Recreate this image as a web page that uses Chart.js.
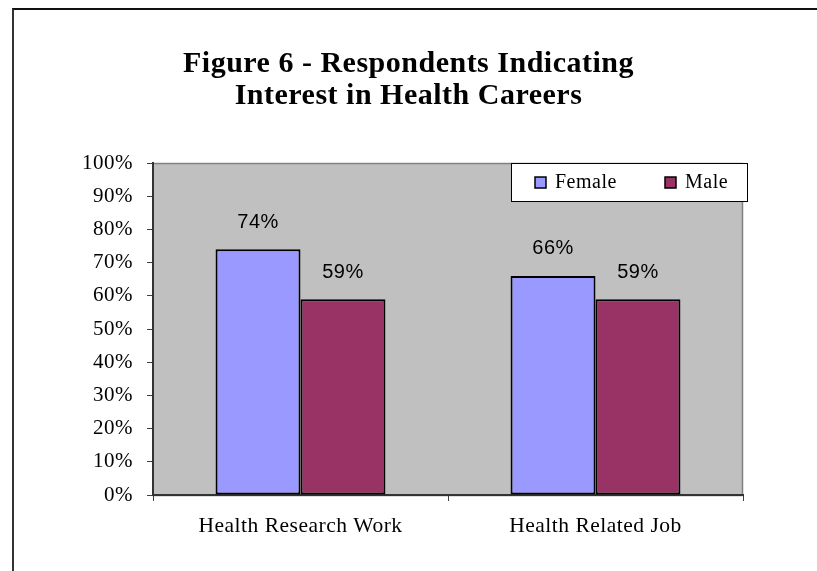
<!DOCTYPE html>
<html>
<head>
<meta charset="utf-8">
<script src="https://cdn.jsdelivr.net/npm/chart.js@4.4.0/dist/chart.umd.min.js"></script>
<style>
body { margin: 0; background: #fff; }
#frame { position: absolute; left: 12px; top: 8px; width: 805px; height: 563px; border-left: 2px solid #333; border-top: 2px solid #111; box-sizing: border-box; }
#wrap { position: absolute; left: 0; top: 0; width: 817px; height: 571px; }
</style>
</head>
<body>
<div id="frame"></div>
<div id="wrap"><canvas id="myChart" width="817" height="571"></canvas></div>
<script>
const categories = ['Health Research Work', 'Health Related Job'];
const seriesNames = ['Female', 'Male'];
const femaleValues = [74, 66];
const maleValues = [59, 59];
const seriesColors = ['#9999FF', '#993366'];
const titleLines = ['Figure 6 - Respondents Indicating', 'Interest in Health Careers'];

const serif = '"Liberation Serif", "Times New Roman", serif';
const sans = '"Liberation Sans", Arial, sans-serif';

// Excel-ish wide text
const spacing = {
    id: 'spacing',
    beforeLayout(chart) { chart.ctx.letterSpacing = '0.5px'; },
    beforeDraw(chart) { chart.ctx.letterSpacing = '0.5px'; }
};

const plotBackground = {
    id: 'plotBackground',
    beforeDraw(chart) {
        const {ctx, chartArea: a} = chart;
        ctx.save();
        ctx.fillStyle = '#C0C0C0';
        ctx.fillRect(a.left, a.top, a.width, a.height);
        ctx.strokeStyle = '#808080';
        ctx.lineWidth = 1.5;
        ctx.strokeRect(a.left, a.top + 0.5, a.width - 0.5, a.height);
        ctx.restore();
    }
};

const valueLabels = {
    id: 'valueLabels',
    afterDatasetsDraw(chart) {
        const ctx = chart.ctx;
        ctx.save();
        ctx.font = '20px ' + sans;
        ctx.fillStyle = '#000';
        ctx.textAlign = 'center';
        ctx.textBaseline = 'middle';
        chart.data.datasets.forEach((ds, i) => {
            chart.getDatasetMeta(i).data.forEach((bar, j) => {
                ctx.fillText(ds.data[j] + '%', bar.x, bar.y - 27);
            });
        });
        ctx.restore();
    }
};

const boxLegend = {
    id: 'boxLegend',
    afterDraw(chart) {
        const {ctx, chartArea: a} = chart;
        const w = 236, h = 38;
        const x = a.right + 4 - w, y = a.top;
        ctx.save();
        ctx.fillStyle = '#fff';
        ctx.fillRect(x, y, w, h);
        ctx.strokeStyle = '#000';
        ctx.lineWidth = 1;
        ctx.strokeRect(x + 0.5, y + 0.5, w, h);
        ctx.font = '20px ' + serif;
        ctx.textBaseline = 'middle';
        const itemX = [24, 154];
        chart.data.datasets.forEach((ds, i) => {
            const sx = x + itemX[i], cy = y + h / 2;
            ctx.fillStyle = ds.backgroundColor;
            ctx.fillRect(sx, cy - 5, 11, 11);
            ctx.lineWidth = 1.5;
            ctx.strokeStyle = '#000';
            ctx.strokeRect(sx, cy - 5, 11, 11);
            ctx.fillStyle = '#000';
            ctx.fillText(ds.label, sx + 20, cy + 1);
        });
        ctx.restore();
    }
};

const chart = new Chart('myChart', {
    type: 'bar',
    data: {
        labels: categories,
        datasets: [{
            label: seriesNames[0],
            data: femaleValues,
            backgroundColor: seriesColors[0],
            borderColor: '#000',
            borderWidth: 2,
            borderSkipped: false
        }, {
            label: seriesNames[1],
            data: maleValues,
            backgroundColor: seriesColors[1],
            borderColor: '#000',
            borderWidth: 2,
            borderSkipped: false
        }]
    },
    options: {
        responsive: false,
        animation: false,
        events: [],
        categoryPercentage: 0.576,
        barPercentage: 1,
        layout: { padding: 0 },
        plugins: {
            legend: { display: false },
            tooltip: { enabled: false },
            title: {
                display: true,
                text: titleLines,
                color: '#000',
                font: { family: serif, size: 30, weight: 'bold', lineHeight: 1.067 },
                padding: { top: 48, bottom: 51 }
            }
        },
        scales: {
            x: {
                grid: { display: true, drawOnChartArea: false, drawTicks: true, tickLength: 6, color: '#404040', offset: true },
                border: { display: true, color: '#333', width: 2 },
                ticks: { color: '#000', padding: 12, font: { family: serif, size: 21.5 } },
                afterFit(s) { s.height = 76; }
            },
            y: {
                min: 0,
                max: 100,
                grid: { display: true, drawOnChartArea: false, drawTicks: true, tickLength: 6, color: '#404040' },
                border: { display: true, color: '#333', width: 2 },
                ticks: { stepSize: 10, color: '#000', padding: 14, font: { family: serif, size: 21 }, callback: v => v + '%' },
                afterFit(s) { s.width = 153; }
            },
            yRight: {
                type: 'linear',
                position: 'right',
                display: true,
                grid: { display: false },
                border: { display: false },
                ticks: { display: false },
                afterFit(s) { s.width = 74; }
            }
        }
    },
    plugins: [spacing, plotBackground, valueLabels, boxLegend]
});
</script>
</body>
</html>
